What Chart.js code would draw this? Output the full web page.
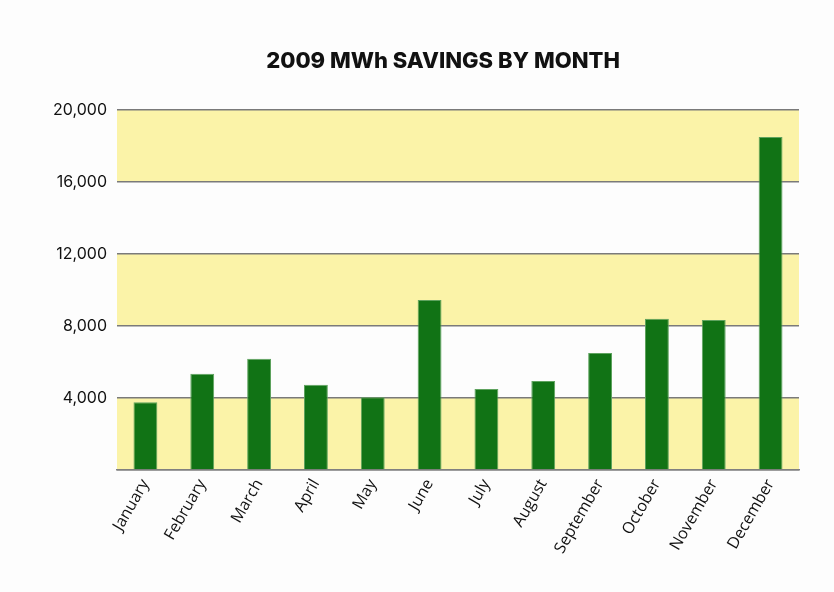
<!DOCTYPE html>
<html>
<head>
<meta charset="utf-8">
<script src="https://cdn.jsdelivr.net/npm/chart.js@4"></script>
<style>
  html, body { margin: 0; padding: 0; background: #fdfdfd; }
  #wrap { width: 834px; height: 592px; }
</style>
</head>
<body>
<div id="wrap"><canvas id="chartCanvas" width="834" height="592"></canvas></div>
<script>
// data
const months = ["January", "February", "March", "April", "May", "June",
  "July", "August", "September", "October", "November", "December"];
const savingsMWh = [3760, 5350, 6180, 4740, 4040, 9440, 4500, 4950, 6500, 8400, 8330, 18500];
const yTicks = [0, 4000, 8000, 12000, 16000, 20000];
const chartTitle = "2009 MWh SAVINGS BY MONTH";

// yellow bands between every other pair of ticks
const bandPlugin = {
  id: "bands",
  beforeDraw(chart) {
    const { ctx, chartArea, scales } = chart;
    const y = scales.y;
    ctx.save();
    ctx.fillStyle = "#fbf3a8";
    for (let i = 0; i < yTicks.length - 1; i += 2) {
      const top = y.getPixelForValue(yTicks[i + 1]);
      const bottom = y.getPixelForValue(yTicks[i]);
      ctx.fillRect(chartArea.left, top, chartArea.right - chartArea.left, bottom - top);
    }
    ctx.restore();
  },
};

// title is centred a bit left of the plot centre in the original
const titlePlugin = {
  id: "offsetTitle",
  afterDraw(chart) {
    const { ctx, chartArea } = chart;
    ctx.save();
    ctx.fillStyle = "#111";
    ctx.font = "800 22px Inter";
    ctx.textAlign = "center";
    ctx.textBaseline = "middle";
    ctx.fillText(chartTitle, chartArea.left + 326, chartArea.top - 49);
    ctx.restore();
  },
};

const ctx = document.getElementById("chartCanvas").getContext("2d");
new Chart(ctx, {
  type: "bar",
  data: {
    labels: months,
    datasets: [
      {
        label: "MWh",
        data: savingsMWh,
        backgroundColor: "#117315",
        borderColor: "#5fa35f",
        borderWidth: 1,
        categoryPercentage: 1,
        barPercentage: 0.42,
      },
    ],
  },
  options: {
    responsive: false,
    animation: false,
    layout: { padding: { left: 0, right: 35, top: 110, bottom: 0 } },
    plugins: {
      legend: { display: false },
      tooltip: { enabled: false },
      title: { display: false },
    },
    scales: {
      x: {
        afterFit(scale) { scale.height = 122; },
        grid: { display: false, drawTicks: false },
        border: { display: true, color: "#808080", width: 1.5 },
        ticks: {
          color: "#111",
          font: { family: "Open Sans", size: 16 },
          minRotation: 60,
          maxRotation: 60,
          padding: 6,
        },
      },
      y: {
        min: 0,
        max: 20000,
        afterBuildTicks(scale) {
          scale.ticks = yTicks.map((v) => ({ value: v }));
        },
        afterFit(scale) { scale.width = 117; },
        grid: { color: "#7a7a7a", lineWidth: 1.5, drawTicks: false },
        border: { display: false },
        ticks: {
          color: "#111",
          font: { family: "Inter", size: 16 },
          padding: 10,
          callback: (v) => (v === 0 ? "" : v.toLocaleString("en-US")),
        },
      },
    },
  },
  plugins: [bandPlugin, titlePlugin],
});
</script>
</body>
</html>
